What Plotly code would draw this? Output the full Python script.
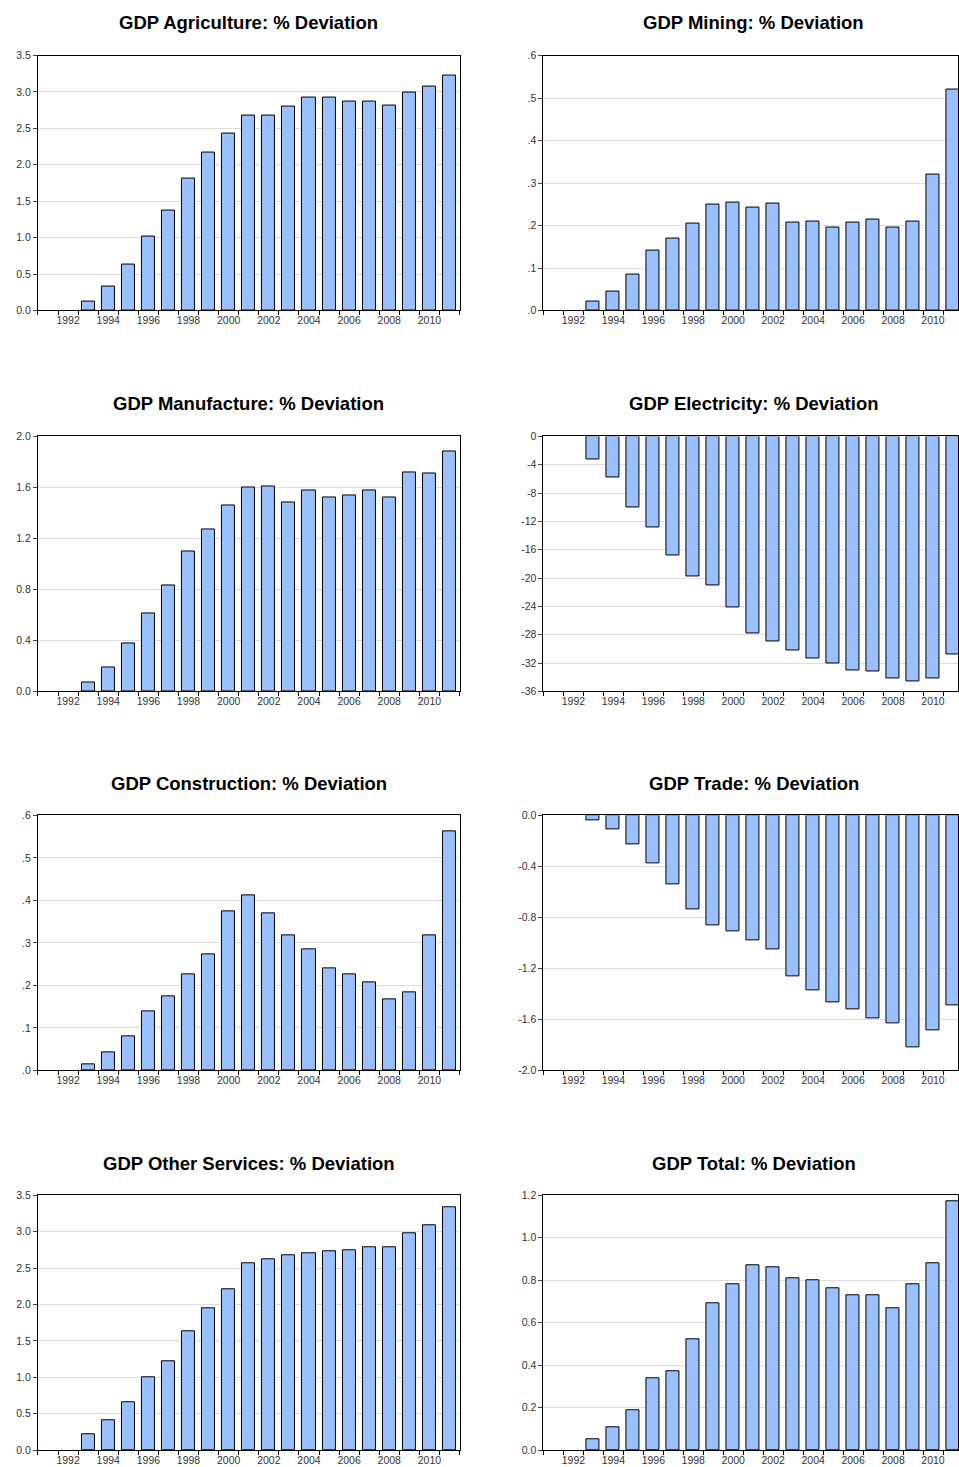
import plotly.graph_objects as go

YEARS = list(range(1993, 2012))

AGRICULTURE = [0.12, 0.33, 0.63, 1.02, 1.37, 1.81, 2.17, 2.43, 2.67, 2.67, 2.80, 2.92, 2.92, 2.87, 2.87, 2.81, 2.99, 3.07, 3.23]
MINING = [0.02, 0.045, 0.085, 0.14, 0.17, 0.205, 0.25, 0.255, 0.242, 0.252, 0.208, 0.21, 0.195, 0.207, 0.215, 0.195, 0.21, 0.32, 0.52]
MANUFACTURE = [0.07, 0.19, 0.38, 0.61, 0.83, 1.10, 1.27, 1.46, 1.60, 1.61, 1.48, 1.58, 1.52, 1.54, 1.58, 1.52, 1.72, 1.71, 1.88]
ELECTRICITY = [-3.2, -5.8, -10.0, -12.8, -16.8, -19.8, -21.0, -24.2, -27.8, -29.0, -30.2, -31.4, -32.0, -33.0, -33.2, -34.2, -34.6, -34.2, -30.8]
CONSTRUCTION = [0.015, 0.042, 0.08, 0.138, 0.175, 0.225, 0.272, 0.375, 0.412, 0.37, 0.318, 0.285, 0.24, 0.225, 0.208, 0.168, 0.183, 0.318, 0.563]
TRADE = [-0.04, -0.11, -0.23, -0.38, -0.54, -0.74, -0.86, -0.91, -0.98, -1.05, -1.26, -1.37, -1.47, -1.52, -1.59, -1.63, -1.82, -1.69, -1.49]
OTHER = [0.22, 0.41, 0.66, 1.00, 1.22, 1.63, 1.95, 2.21, 2.57, 2.62, 2.68, 2.71, 2.73, 2.75, 2.78, 2.78, 2.98, 3.09, 3.34]
TOTAL = [0.05, 0.11, 0.19, 0.34, 0.37, 0.52, 0.69, 0.78, 0.87, 0.86, 0.81, 0.80, 0.76, 0.73, 0.73, 0.67, 0.78, 0.88, 1.17]

X_TICKS = list(range(1992, 2011, 2))


def tick_text(t, fmt):
    if fmt == "lead":
        s = f"{t:.1f}"
        return s[1:] if s.startswith("0") else s
    s = fmt % t
    return "0.0" if s == "-0.0" else s


PANELS = [
    ("GDP Agriculture: % Deviation", AGRICULTURE, (0, 3.5, 0.5), "%.1f"),
    ("GDP Mining: % Deviation", MINING, (0, 0.6, 0.1), "lead"),
    ("GDP Manufacture: % Deviation", MANUFACTURE, (0, 2.0, 0.4), "%.1f"),
    ("GDP Electricity: % Deviation", ELECTRICITY, (-36, 0, 4), "%d"),
    ("GDP Construction: % Deviation", CONSTRUCTION, (0, 0.6, 0.1), "lead"),
    ("GDP Trade: % Deviation", TRADE, (-2.0, 0, 0.4), "%.1f"),
    ("GDP Other Services: % Deviation", OTHER, (0, 3.5, 0.5), "%.1f"),
    ("GDP Total: % Deviation", TOTAL, (0, 1.2, 0.2), "%.1f"),
]

W, H = 959, 1467


def ypos(px):
    # the page photo comes out slightly squeezed vertically; compensate
    return 55 + (px - 60) * 1.008


ROW_TOPS = [55, 436, 815, 1195]
PLOT_H = 255
TITLE_Y = [22, 403, 783, 1163]
COLS = [(38, 460, 2011.5), (544, 959, 1990.5 + (959 - 544) / 20)]

fig = go.Figure()
annotations = []
for i, (title, vals, (lo, hi, step), fmt) in enumerate(PANELS):
    r, c = divmod(i, 2)
    n = i + 1
    xa = "x" if n == 1 else f"x{n}"
    ya = "y" if n == 1 else f"y{n}"
    x0, x1, xmax = COLS[c]
    top = ypos(ROW_TOPS[r])
    bottom = ypos(ROW_TOPS[r] + PLOT_H)
    fig.add_trace(go.Bar(x=YEARS, y=vals, xaxis=xa, yaxis=ya, width=0.65,
                         marker={"color": "#9ac0ff", "line": {"color": "#000000", "width": 1}},
                         showlegend=False))
    tv = []
    v = lo
    while v <= hi + 1e-9:
        tv.append(round(v, 6))
        v += step
    tt = [tick_text(t, fmt) for t in tv]
    axis_common = {"showline": True, "linecolor": "#000000", "linewidth": 1, "mirror": True}
    fig.layout[xa.replace("x", "xaxis")] = dict(
        domain=[x0 / W, x1 / W], anchor=ya, range=[1990.5, xmax],
        tickvals=X_TICKS, ticktext=[str(t) for t in X_TICKS], ticks="outside", ticklen=0,
        tickfont={"size": 10.5, "color": "#333333"}, showgrid=False, zeroline=False,
        minor={"ticks": "outside", "tick0": 1990.5, "dtick": 1, "ticklen": 4, "tickcolor": "#000000"},
        **axis_common)
    fig.layout[ya.replace("y", "yaxis")] = dict(
        domain=[1 - bottom / H, 1 - top / H], anchor=xa, range=[lo, hi],
        tickvals=tv, ticktext=tt, ticks="outside", ticklen=4,
        tickfont={"size": 10.5, "color": "#333333"}, showgrid=True, gridcolor="#dddddd",
        zeroline=False, **axis_common)
    annotations.append(dict(text=f"<b>{title}</b>", x=(x0 + (x1 if c == 0 else 965)) / 2 / W,
                            y=1 - ypos(TITLE_Y[r]) / H, xref="paper", yref="paper", showarrow=False,
                            xanchor="center", yanchor="middle",
                            font={"size": 18.5, "color": "#000000", "family": "Arial"}))

fig.update_layout(width=W, height=H, margin={"l": 0, "r": 0, "t": 0, "b": 0},
                  paper_bgcolor="#ffffff", plot_bgcolor="#ffffff", bargap=0,
                  font={"family": "Arial"}, annotations=annotations)
fig.write_html(
    "out.html",
    config={"displayModeBar": False},
    post_script=(
        "document.body.style.margin='0';document.body.style.padding='0';"
        "document.body.style.overflow='hidden';"
        "document.documentElement.style.overflow='hidden';"
    ),
)
